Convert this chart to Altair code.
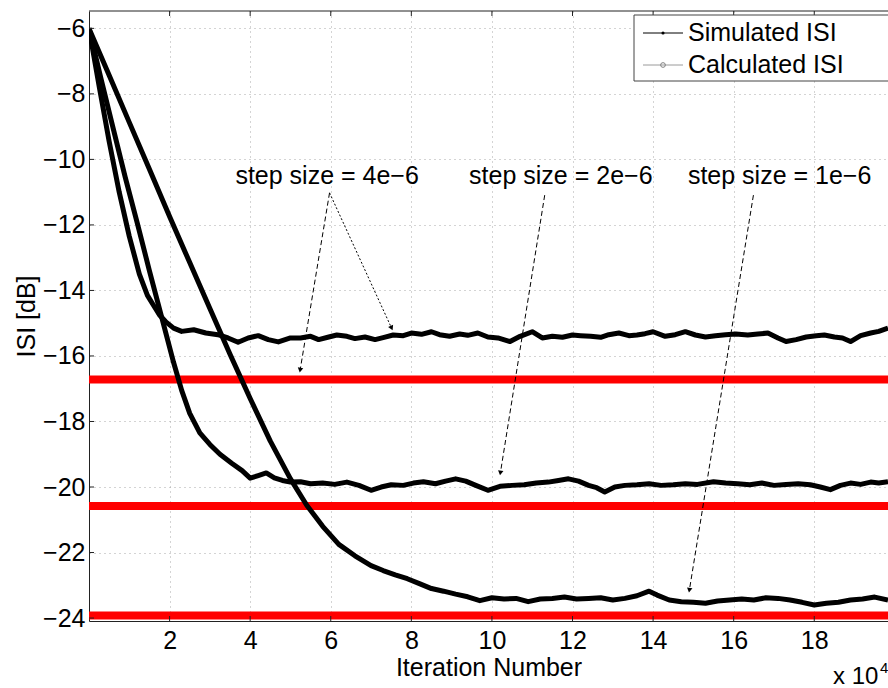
import math
import altair as alt
import pandas as pd

# ---------------- data (iterations in units of 1e4, ISI in dB) ----------------
s4_x = [0, 0.25, 0.5, 0.75, 1.0, 1.25, 1.45, 1.6, 1.75, 1.9, 2.1, 2.3, 2.6, 2.9, 3.2, 3.45, 3.7, 3.95,
        4.2, 4.45, 4.7, 5.0, 5.25, 5.5, 5.7, 5.95, 6.15, 6.4, 6.6, 6.85, 7.1, 7.3, 7.55, 7.8, 8.0, 8.25,
        8.5, 8.7, 8.95, 9.2, 9.4, 9.65, 9.9, 10.15, 10.45, 10.7, 11.0, 11.25, 11.5, 11.75, 12.0, 12.2,
        12.45, 12.7, 12.9, 13.15, 13.4, 13.6, 13.8, 14.0, 14.3, 14.55, 14.8, 15.05, 15.3, 15.55, 15.8,
        16.05, 16.35, 16.6, 16.85, 17.1, 17.3, 17.55, 17.8, 18.05, 18.25, 18.5, 18.7, 18.9, 19.15, 19.4,
        19.6, 19.83]
s4_y = [-6.0, -7.75, -9.45, -11.0, -12.35, -13.5, -14.15, -14.45, -14.75, -14.95, -15.15, -15.25, -15.2,
        -15.3, -15.35, -15.45, -15.58, -15.45, -15.38, -15.5, -15.57, -15.45, -15.45, -15.4, -15.5, -15.42,
        -15.36, -15.4, -15.47, -15.42, -15.5, -15.44, -15.36, -15.38, -15.3, -15.34, -15.26, -15.35, -15.4,
        -15.33, -15.37, -15.3, -15.42, -15.45, -15.56, -15.4, -15.26, -15.45, -15.4, -15.43, -15.36, -15.38,
        -15.4, -15.43, -15.35, -15.3, -15.38, -15.36, -15.32, -15.26, -15.4, -15.35, -15.26, -15.36, -15.42,
        -15.38, -15.35, -15.33, -15.36, -15.33, -15.3, -15.45, -15.56, -15.5, -15.42, -15.38, -15.36, -15.42,
        -15.45, -15.56, -15.38, -15.3, -15.25, -15.15]

s2_x = [0, 0.3, 0.6, 0.9, 1.2, 1.5, 1.8, 2.1, 2.3, 2.5, 2.75, 3.0, 3.25, 3.55, 3.8, 4.0, 4.2, 4.4, 4.6,
        4.8, 5.0, 5.25, 5.5, 5.8, 6.1, 6.4, 6.7, 7.0, 7.25, 7.5, 7.8, 8.05, 8.3, 8.6, 8.85, 9.1, 9.35, 9.6,
        9.9, 10.2, 10.5, 10.8, 11.1, 11.4, 11.65, 11.9, 12.15, 12.4, 12.6, 12.8, 13.05, 13.3, 13.6, 13.9,
        14.2, 14.5, 14.8, 15.1, 15.5, 15.8, 16.1, 16.4, 16.7, 17.0, 17.3, 17.6, 17.9, 18.15, 18.4, 18.65,
        18.9, 19.15, 19.4, 19.6, 19.83]
s2_y = [-6.0, -7.55, -9.05, -10.55, -11.95, -13.4, -14.8, -16.2, -17.05, -17.75, -18.35, -18.7, -19.0,
        -19.28, -19.5, -19.73, -19.65, -19.57, -19.72, -19.8, -19.85, -19.84, -19.9, -19.88, -19.92, -19.85,
        -19.95, -20.1, -20.0, -19.93, -19.95, -19.88, -19.84, -19.9, -19.82, -19.75, -19.82, -19.95, -20.1,
        -19.98, -19.95, -19.93, -19.88, -19.85, -19.8, -19.75, -19.82, -19.95, -20.02, -20.15, -20.0, -19.95,
        -19.93, -19.9, -19.95, -19.93, -19.9, -19.92, -19.84, -19.88, -19.9, -19.93, -19.88, -19.95, -19.92,
        -19.9, -19.93, -20.0, -20.08, -19.95, -19.88, -19.92, -19.85, -19.88, -19.84]

s1_x = [0, 0.5, 1.0, 1.5, 2.0, 2.5, 3.0, 3.5, 4.0, 4.5, 5.0, 5.4, 5.8, 6.2, 6.6, 7.0, 7.3, 7.6, 7.9, 8.2,
        8.5, 8.8, 9.1, 9.4, 9.7, 10.0, 10.3, 10.6, 10.9, 11.2, 11.5, 11.8, 12.1, 12.4, 12.7, 13.0, 13.3,
        13.6, 13.9, 14.1, 14.4, 14.7, 15.0, 15.3, 15.6, 15.9, 16.2, 16.5, 16.8, 17.1, 17.4, 17.7, 18.0,
        18.3, 18.6, 18.9, 19.2, 19.5, 19.83]
s1_y = [-6.0, -7.43, -8.87, -10.3, -11.74, -13.15, -14.55, -15.95, -17.3, -18.6, -19.75, -20.55, -21.2,
        -21.75, -22.1, -22.4, -22.55, -22.68, -22.8, -22.95, -23.1, -23.18, -23.27, -23.35, -23.47, -23.38,
        -23.42, -23.4, -23.5, -23.42, -23.4, -23.36, -23.42, -23.4, -23.38, -23.45, -23.4, -23.32, -23.18,
        -23.3, -23.45, -23.5, -23.52, -23.55, -23.48, -23.45, -23.42, -23.45, -23.38, -23.4, -23.45, -23.52,
        -23.6, -23.55, -23.52, -23.45, -23.42, -23.36, -23.45]

calc_levels = [-16.72, -20.58, -23.92]          # calculated (steady-state) ISI, red

note_labels = ["step size = 4e\u22126", "step size = 2e\u22126", "step size = 1e\u22126"]
note_x = [5.91, 11.71, 17.14]
note_y = [-10.51, -10.51, -10.51]

arrow_x0 = [5.97, 5.97, 11.31, 16.49]
arrow_y0 = [-11.02, -11.02, -11.09, -11.09]
arrow_x1 = [5.24, 7.51, 10.21, 14.90]
arrow_y1 = [-16.43, -15.15, -19.57, -23.15]
arrow_kind = ["dash", "dot", "dash", "dash"]

x_ticks = [2, 4, 6, 8, 10, 12, 14, 16, 18]
y_ticks = [-24, -22, -20, -18, -16, -14, -12, -10, -8, -6]

# ---------------- layout ----------------
W, H = 799, 610
XDOM = [0, 19.83]
YDOM = [-24.09, -5.47]
FONT = "Liberation Sans"
FS = 25

xs = alt.Scale(domain=XDOM, nice=False, zero=False)
ys = alt.Scale(domain=YDOM, nice=False, zero=False)

curves = pd.concat([
    pd.DataFrame({"x": s4_x, "y": s4_y, "curve": "4e-6"}),
    pd.DataFrame({"x": s2_x, "y": s2_y, "curve": "2e-6"}),
    pd.DataFrame({"x": s1_x, "y": s1_y, "curve": "1e-6"}),
], ignore_index=True)

px_x = W / (XDOM[1] - XDOM[0])
px_y = H / (YDOM[1] - YDOM[0])
angles = []
for a, b, c, d in zip(arrow_x0, arrow_y0, arrow_x1, arrow_y1):
    dx = (c - a) * px_x
    dy = -(d - b) * px_y
    angles.append(math.degrees(math.atan2(-dx, dy)) % 360)
arrows = pd.DataFrame({"x": arrow_x0, "y": arrow_y0, "x1": arrow_x1, "y1": arrow_y1,
                       "kind": arrow_kind, "ang": angles})
heads_df = pd.DataFrame({"x": arrow_x1, "y": arrow_y1, "ang": angles})

notes = pd.DataFrame({"x": note_x, "y": note_y, "label": note_labels})
levels = pd.DataFrame({"y": calc_levels})
xt = pd.DataFrame({"x": x_ticks})
yt = pd.DataFrame({"y": y_ticks})
one = pd.DataFrame({"k": [0]})

grid_kw = dict(grid=True, gridColor="#a8a8a8", gridDash=[1, 4], gridWidth=1,
               ticks=False, tickSize=0, domainColor="#222222", domainWidth=1,
               labelFont=FONT, labelFontSize=FS, labelColor="black",
               titleFont=FONT, titleFontSize=FS, titleFontWeight="normal", titleColor="black")

x_axis = alt.Axis(values=x_ticks, title="Iteration Number", labelPadding=7,
                  titleY=34, titleBaseline="top", **grid_kw)
y_axis = alt.Axis(values=y_ticks, title="ISI [dB]", labelPadding=4, titleX=-63,
                  titleBaseline="middle", **grid_kw)


def X(field="x"):
    return alt.X(f"{field}:Q", scale=xs, axis=x_axis)


def Y(field="y"):
    return alt.Y(f"{field}:Q", scale=ys, axis=y_axis)


red = alt.Chart(levels).mark_rule(color="#ff0000", strokeWidth=8).encode(y=Y())

sim = alt.Chart(curves).mark_line(color="black", strokeWidth=5, strokeJoin="round", clip=True).encode(
    x=X(), y=Y(), detail="curve:N")

arrow_dash = alt.Chart(arrows).transform_filter(alt.datum.kind == "dash").mark_rule(
    color="black", strokeWidth=1, strokeDash=[5, 3]).encode(x=X(), y=Y(), x2="x1:Q", y2="y1:Q")
arrow_dot = alt.Chart(arrows).transform_filter(alt.datum.kind == "dot").mark_rule(
    color="black", strokeWidth=1, strokeDash=[2, 2]).encode(x=X(), y=Y(), x2="x1:Q", y2="y1:Q")
heads = alt.Chart(heads_df).mark_point(shape="triangle-down", filled=True, color="black",
                                       size=30, opacity=1).encode(
    x=X(), y=Y(), angle=alt.Angle("ang:Q", scale=None))

note_text = alt.Chart(notes).mark_text(font=FONT, fontSize=FS, color="black",
                                       align="center", baseline="middle").encode(
    x=X(), y=Y(), text="label:N")

# frame pieces (top border and inward tick marks, MATLAB style)
top_border = alt.Chart(one).mark_rule(color="#222222", strokeWidth=1).encode(y=alt.value(0))
xt_bot = alt.Chart(xt).mark_rule(color="#222222").encode(x=X(), y=alt.value(H), y2=alt.value(H - 5))
xt_top = alt.Chart(xt).mark_rule(color="#222222").encode(x=X(), y=alt.value(0), y2=alt.value(5))
yt_left = alt.Chart(yt).mark_rule(color="#222222").encode(y=Y(), x=alt.value(0), x2=alt.value(5))

# legend (box partly outside the picture, as in the original)
leg_box = alt.Chart(one).mark_rect(fill="white", stroke="#444444", strokeWidth=1).encode(
    x=alt.value(545), x2=alt.value(830), y=alt.value(4), y2=alt.value(70))
leg_l1 = alt.Chart(one).mark_rule(color="black", strokeWidth=1).encode(
    x=alt.value(554), x2=alt.value(594), y=alt.value(22))
leg_m1 = alt.Chart(one).mark_point(shape="circle", filled=True, color="black", size=10, opacity=1).encode(
    x=alt.value(574), y=alt.value(22))
leg_t1 = alt.Chart(one).mark_text(font=FONT, fontSize=FS, align="left", baseline="middle",
                                  color="black").encode(
    x=alt.value(599), y=alt.value(22), text=alt.value("Simulated ISI"))
leg_l2 = alt.Chart(one).mark_rule(color="#9a9a9a", strokeWidth=1).encode(
    x=alt.value(554), x2=alt.value(594), y=alt.value(54))
leg_m2 = alt.Chart(one).mark_point(shape="circle", filled=False, color="#808080", size=22,
                                   strokeWidth=1, opacity=1).encode(
    x=alt.value(574), y=alt.value(54))
leg_t2 = alt.Chart(one).mark_text(font=FONT, fontSize=FS, align="left", baseline="middle",
                                  color="black").encode(
    x=alt.value(599), y=alt.value(54), text=alt.value("Calculated ISI"))

# exponent label of the x axis
exp_base = alt.Chart(one).mark_text(font=FONT, fontSize=24, align="left", baseline="alphabetic",
                                    color="black").encode(
    x=alt.value(744), y=alt.value(673), text=alt.value("x 10"))
exp_pow = alt.Chart(one).mark_text(font=FONT, fontSize=15, align="left", baseline="alphabetic",
                                   color="black").encode(
    x=alt.value(791), y=alt.value(662), text=alt.value("4"))

chart = alt.layer(
    red, sim, arrow_dash, arrow_dot, heads, note_text,
    top_border, xt_bot, xt_top, yt_left,
    leg_box, leg_l1, leg_m1, leg_t1, leg_l2, leg_m2, leg_t2,
    exp_base, exp_pow,
).properties(
    width=W, height=H,
    autosize=alt.AutoSizeParams(type="none"),
    padding={"left": 89, "top": 11, "right": 0, "bottom": 67},
    background="white",
).configure_view(stroke=None)

chart.save("out.html", embed_options={"renderer": "svg", "actions": False})
